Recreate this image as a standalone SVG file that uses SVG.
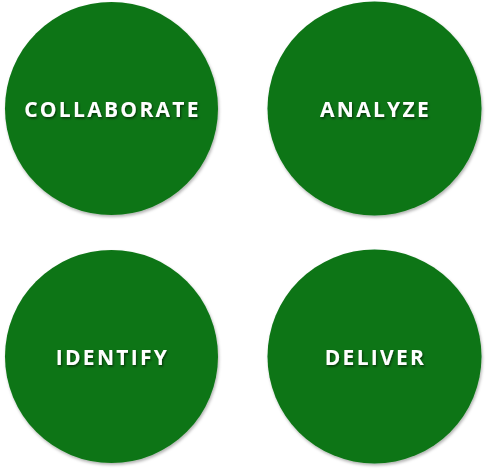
<svg xmlns="http://www.w3.org/2000/svg" width="486" height="471" viewBox="0 0 486 471">
<defs>
<filter id="cs" x="-10%" y="-10%" width="125%" height="125%"><feDropShadow dx="1" dy="2" stdDeviation="1.5" flood-color="#000" flood-opacity="0.3"/></filter>
<filter id="ts" x="-10%" y="-30%" width="125%" height="180%"><feDropShadow dx="1" dy="1.5" stdDeviation="1.2" flood-color="#000" flood-opacity="0.55"/></filter>
</defs>
<style>
.c{fill:#0b7414;filter:url(#cs)}
.t{fill:#fff;font-family:"Open Sans",sans-serif;font-weight:bold;font-size:21px;letter-spacing:2.3px;text-anchor:middle;filter:url(#ts)}
</style>
<rect width="486" height="471" fill="#fff"/>
<g id="collaborate"><circle class="c" cx="111.5" cy="108.5" r="106.5"/><text class="t" x="112.5" y="116.5">COLLABORATE</text></g>
<g id="analyze"><circle class="c" cx="374.5" cy="108.5" r="107"/><text class="t" x="375.5" y="116.5">ANALYZE</text></g>
<g id="identify"><circle class="c" cx="111.5" cy="356.5" r="106.5"/><text class="t" x="112.5" y="365">IDENTIFY</text></g>
<g id="deliver"><circle class="c" cx="374.5" cy="356.5" r="107"/><text class="t" x="375.5" y="365">DELIVER</text></g>
</svg>
